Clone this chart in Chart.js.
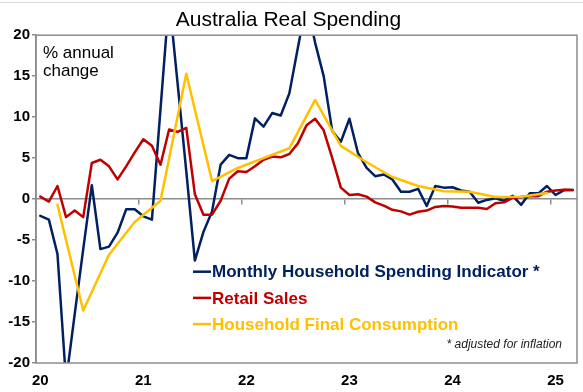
<!DOCTYPE html>
<html>
<head>
<meta charset="utf-8">
<script src="https://cdn.jsdelivr.net/npm/chart.js@4.4.1/dist/chart.umd.min.js"></script>
<style>
body{margin:0;background:#fff}
#wrap{width:583px;height:392px;position:relative}
</style>
</head>
<body>
<div id="wrap"><canvas id="grafico"></canvas></div>
<script>
// Datos
const yearLabels = ['20', '21', '22', '23', '24', '25']
const monthNames = ['Jan', 'Feb', 'Mar', 'Apr', 'May', 'Jun', 'Jul', 'Aug', 'Sep', 'Oct', 'Nov', 'Dec']
// meses Jan 20 .. Mar 25
const months = []
yearLabels.forEach(y => monthNames.forEach(m => months.push(m + ' ' + y)))
months.length = 63

const spendingIndicator = [
  -2.05, -2.5, -6.7, -22.2, -14.1, -6.1, 1.7, -6.1, -5.8, -4.1, -1.25, -1.25,
  -2.1, -2.5, 11.0, 24.5, 14.0, 3.4, -7.5, -4.0, -1.5, 4.2, 5.4, 5.0,
  5.0, 9.85, 8.85, 10.5, 10.2, 12.9, 18.5, 24.0, 19.1, 15.0, 8.3, 7.0,
  9.8, 5.6, 3.8, 2.8, 3.0, 2.4, 0.9, 0.9, 1.25, -0.85, 1.6, 1.4,
  1.45, 1.05, 0.9, -0.45, -0.1, 0.1, -0.2, 0.4, -0.7, 0.7, 0.7, 1.6,
  0.5, 1.1, 1.1
]
const retailSales = [
  0.3, -0.3, 1.6, -2.2, -1.4, -2.2, 4.4, 4.8, 4.0, 2.4, 4.0, 5.7,
  7.3, 6.5, 4.2, 8.5, 8.2, 8.7, 0.6, -1.9, -1.9, -0.2, 2.5, 3.4,
  3.3, 4.0, 4.8, 5.2, 5.1, 5.5, 6.8, 9.0, 9.8, 8.4, 5.0, 1.4,
  0.5, 0.6, 0.3, -0.4, -0.8, -1.3, -1.5, -1.9, -1.55, -1.4, -0.95, -0.85,
  -0.9, -1.05, -1.05, -1.05, -1.2, -0.5, -0.4, 0.15, 0.25, 0.35, 0.35, 0.9,
  1.05, 1.15, 1.1
]
const hfcQuarters = [
  'Mar 20', 'Jun 20', 'Sep 20', 'Dec 20', 'Mar 21', 'Jun 21', 'Sep 21', 'Dec 21',
  'Mar 22', 'Jun 22', 'Sep 22', 'Dec 22', 'Mar 23', 'Jun 23', 'Sep 23', 'Dec 23',
  'Mar 24', 'Jun 24', 'Sep 24', 'Dec 24'
]
const hfcValues = [
  -0.7, -13.6, -6.8, -2.8, -0.2, 15.3, 2.2, 3.8,
  5.0, 6.2, 12.1, 6.5, 4.5, 2.7, 1.6, 0.95,
  0.9, 0.25, 0.3, 0.75
]
const yTicks = [-20, -15, -10, -5, 0, 5, 10, 15, 20]

const NAVY = '#002060'
const RED = '#C00000'
const GOLD = '#FFC000'
const GRIS = '#8c8c8c'
const FUENTE = '"Liberation Sans", Arial, sans-serif'

// Plugin: marco, textos y leyenda
const decor = {
  id: 'decor',
  beforeDraw(chart) {
    const c = chart.ctx
    c.save()
    c.fillStyle = '#fff'
    c.fillRect(0, 0, chart.width, chart.height)
    c.strokeStyle = '#dcdcdc'
    c.lineWidth = 1
    c.beginPath(); c.moveTo(0, 2.5); c.lineTo(chart.width, 2.5); c.stroke()
    c.restore()
  },
  afterDraw(chart) {
    const c = chart.ctx
    const a = chart.chartArea
    c.save()
    c.strokeStyle = GRIS
    c.lineWidth = 1.5
    c.strokeRect(a.left, a.top, a.right - a.left, a.bottom - a.top)

    c.fillStyle = '#000'
    c.font = '17px ' + FUENTE
    c.textBaseline = 'alphabetic'
    c.fillText('% annual', a.left + 7, a.top + 23)
    c.fillText('change', a.left + 7, a.top + 41)

    chart.data.datasets.forEach((ds, i) => {
      const y = a.top + 236.5 + i * 26.2
      c.strokeStyle = ds.borderColor
      c.lineWidth = 2.5
      c.beginPath(); c.moveTo(a.left + 157, y); c.lineTo(a.left + 175, y); c.stroke()
      c.fillStyle = ds.borderColor
      c.font = 'bold 17px ' + FUENTE
      c.textBaseline = 'middle'
      c.fillText(ds.label, a.left + 176, y + 1)
    })

    c.fillStyle = '#222'
    c.font = 'italic 12px ' + FUENTE
    c.textAlign = 'right'
    c.textBaseline = 'middle'
    c.fillText('* adjusted for inflation', a.right - 15, a.top + 309)
    c.restore()
  }
}

const ctx = document.getElementById('grafico').getContext('2d')
new Chart(ctx, {
  type: 'line',
  data: {
    labels: months,
    datasets: [
      {
        label: 'Monthly Household Spending Indicator *',
        data: spendingIndicator,
        borderColor: NAVY,
        borderWidth: 2.5,
        order: 3
      },
      {
        label: 'Retail Sales',
        data: retailSales,
        borderColor: RED,
        borderWidth: 2.5,
        order: 2
      },
      {
        label: 'Household Final Consumption',
        data: hfcQuarters.map((q, i) => ({ x: q, y: hfcValues[i] })),
        borderColor: GOLD,
        borderWidth: 2.5,
        order: 1
      }
    ]
  },
  options: {
    responsive: true,
    maintainAspectRatio: false,
    animation: false,
    elements: {
      point: { radius: 0, hoverRadius: 0 },
      line: { tension: 0, borderCapStyle: 'round', borderJoinStyle: 'round' }
    },
    layout: { padding: { top: 0, right: 6, bottom: 0, left: 0 } },
    plugins: {
      legend: { display: false },
      tooltip: { enabled: false },
      title: {
        display: true,
        text: 'Australia Real Spending',
        color: '#000',
        font: { family: FUENTE, size: 21, weight: 'normal' },
        padding: { top: 8, bottom: 2 }
      }
    },
    scales: {
      x: {
        type: 'category',
        offset: true,
        grid: { display: false, drawTicks: false },
        border: { display: false },
        ticks: {
          autoSkip: false,
          maxRotation: 0,
          padding: 9,
          color: '#000',
          font: { family: FUENTE, size: 15, weight: 'bold' },
          callback: (val, idx) => (idx % 12 === 0 ? yearLabels[idx / 12] : '')
        },
        afterFit: s => { s.height = 29 }
      },
      xCero: {
        type: 'category',
        axis: 'x',
        labels: months,
        offset: true,
        position: { y: 0 },
        grid: {
          offset: true,
          drawOnChartArea: false,
          drawTicks: true,
          tickLength: 5,
          lineWidth: 1.5,
          color: c => (c.index % 12 === 0 ? GRIS : 'rgba(0,0,0,0)')
        },
        border: { display: true, color: GRIS, width: 1.5 },
        ticks: { display: false, autoSkip: false }
      },
      y: {
        min: -20,
        max: 20,
        afterBuildTicks: s => { s.ticks = yTicks.map(v => ({ value: v })) },
        grid: { drawOnChartArea: false, drawTicks: true, tickLength: 4, color: GRIS, lineWidth: 1.5 },
        border: { display: true, color: GRIS, width: 1.5 },
        ticks: {
          padding: 2,
          color: '#000',
          font: { family: FUENTE, size: 15, weight: 'bold' }
        },
        afterFit: s => { s.width = 36 }
      }
    }
  },
  plugins: [decor]
})
</script>
</body>
</html>
